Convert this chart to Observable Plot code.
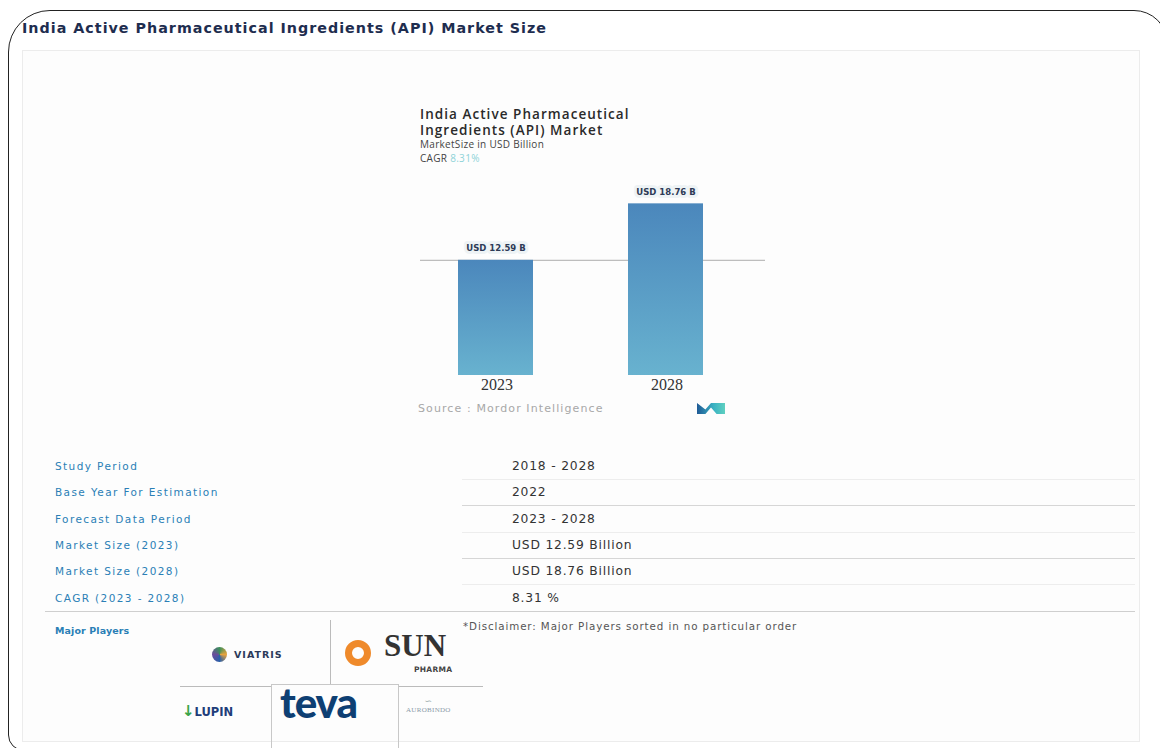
<!DOCTYPE html>
<html>
<head>
<meta charset="utf-8">
<script src="https://cdn.jsdelivr.net/npm/d3@7"></script>
<script src="https://cdn.jsdelivr.net/npm/@observablehq/plot@0.6"></script>
<style>
  html, body { margin: 0; padding: 0; width: 1160px; height: 748px; overflow: hidden; background: #fff; font-family: "DejaVu Sans", "Noto Sans", sans-serif; }
  #frame { position: absolute; left: 8px; top: 10px; width: 1160px; height: 741px; border: 1.5px solid #222; border-radius: 42px 34px 0 16px; box-sizing: border-box; }
  #panel { position: absolute; left: 22px; top: 50px; width: 1118px; height: 692px; border: 1px solid #ececec; background: #fdfdfd; box-sizing: border-box; }
  #title { position: absolute; left: 22px; top: 20px; font-family: "DejaVu Sans", sans-serif; font-weight: 700; font-size: 14.3px; color: #1e2d4f; letter-spacing: 1px; }
  #chartHead { position: absolute; left: 420px; top: 106px; color: #2a2a2a; font-family: "Open Sans", sans-serif; }
  #chartHead .t { font-weight: 600; font-size: 13.5px; line-height: 16px; letter-spacing: 1.05px; }
  #chartHead .s { font-size: 10px; line-height: 13.5px; color: #444; letter-spacing: 0.3px; }
  #chartHead .c span { color: #8fd3d8; }
  #chart { position: absolute; left: 410px; top: 170px; }
  #source { position: absolute; left: 418px; top: 402px; font-size: 11px; color: #a8a8a8; letter-spacing: 1.1px; }
  #mlogo { position: absolute; left: 697px; top: 403px; width: 28px; height: 11px; background: linear-gradient(90deg, #1f5a96, #3bb3c3 60%, #5fd0c0); clip-path: polygon(0 100%, 0 0, 30% 60%, 50% 0, 100% 0, 100% 100%, 70% 100%, 50% 40%, 30% 100%); }
  .lab { position: absolute; left: 55px; font-size: 10.5px; color: #2a7fb6; transform: translateY(-50%); letter-spacing: 1.4px; }
  .val { position: absolute; left: 512px; font-size: 12.3px; color: #333; transform: translateY(-50%); letter-spacing: 0.8px; }
  .sep { position: absolute; height: 1px; background: #dcdcdc; }
  #players { position: absolute; left: 55px; top: 625px; font-size: 9.5px; color: #2a7fb6; font-weight: 700; letter-spacing: 0.1px; }
  #disc { position: absolute; left: 463px; top: 620px; font-size: 10.3px; color: #555; letter-spacing: 0.9px; }
  .logo { position: absolute; }
</style>
</head>
<body>
<div id="frame"></div>
<div id="panel"></div>
<div id="title"></div>
<div id="chartHead"></div>
<div id="chart"></div>
<div id="source"></div>
<div id="mlogo"></div>
<div id="table"></div>
<div id="players"></div>
<div id="disc"></div>
<div id="logos"></div>
<script>
// ---- data ----
const pageTitle = "India Active Pharmaceutical Ingredients (API) Market Size";
const chartTitleLines = ["India Active Pharmaceutical", "Ingredients (API) Market"];
const chartSubtitle = "MarketSize in USD Billion";
const cagrLabel = "CAGR";
const cagrValue = "8.31%";
const years = ["2023", "2028"];
const marketSize = [12.59, 18.76];
const valueLabels = ["USD 12.59 B", "USD 18.76 B"];
const sourceText = "Source : Mordor Intelligence";
const tableLabels = ["Study Period", "Base Year For Estimation", "Forecast Data Period", "Market Size (2023)", "Market Size (2028)", "CAGR (2023 - 2028)"];
const tableValues = ["2018 - 2028", "2022", "2023 - 2028", "USD 12.59 Billion", "USD 18.76 Billion", "8.31 %"];
const playersLabel = "Major Players";
const disclaimer = "*Disclaimer: Major Players sorted in no particular order";

// ---- text blocks ----
document.getElementById("title").textContent = pageTitle;
const head = document.getElementById("chartHead");
chartTitleLines.forEach(t => { const d = document.createElement("div"); d.className = "t"; d.textContent = t; head.appendChild(d); });
const sub = document.createElement("div"); sub.className = "s"; sub.textContent = chartSubtitle; head.appendChild(sub);
const cg = document.createElement("div"); cg.className = "s c"; cg.innerHTML = cagrLabel + " <span>" + cagrValue + "</span>"; head.appendChild(cg);
document.getElementById("source").textContent = sourceText;
document.getElementById("players").textContent = playersLabel;
document.getElementById("disc").textContent = disclaimer;

// ---- table ----
const table = document.getElementById("table");
const rowTop = 466, rowStep = 26.3;
tableLabels.forEach((l, i) => {
  const y = rowTop + i * rowStep;
  const a = document.createElement("div"); a.className = "lab"; a.style.top = y + "px"; a.textContent = l; table.appendChild(a);
  const b = document.createElement("div"); b.className = "val"; b.style.top = y + "px"; b.textContent = tableValues[i]; table.appendChild(b);
  const s = document.createElement("div"); s.className = "sep";
  s.style.top = (y + 13) + "px";
  if (i === tableLabels.length - 1) { s.style.left = "45px"; s.style.width = "1090px"; s.style.background = "#cfcfcf"; }
  else { s.style.left = "462px"; s.style.width = "673px"; s.style.background = i % 2 ? "#d6d6d6" : "#ededed"; }
  table.appendChild(s);
});

// ---- logos ----
const logos = document.getElementById("logos");
function add(html, css) { const d = document.createElement("div"); d.className = "logo"; d.innerHTML = html; Object.assign(d.style, css); logos.appendChild(d); }
add("", {left: "330px", top: "620px", width: "1px", height: "65px", background: "#bbb"});
add("", {left: "180px", top: "686px", width: "92px", height: "1px", background: "#bbb"});
add("", {left: "398px", top: "686px", width: "85px", height: "1px", background: "#bbb"});
add("", {left: "271px", top: "684px", width: "128px", height: "66px", border: "1px solid #c8c8c8", boxSizing: "border-box"});
add('<span style="display:inline-block;width:15px;height:15px;border-radius:50%;background:conic-gradient(#3b8f5a,#e8a33d,#2a5fa8,#6a4c9c,#3b8f5a);vertical-align:middle;margin-right:7px"></span><span style="font-weight:700;font-size:9.5px;letter-spacing:1px;color:#2b3a5a;vertical-align:middle">VIATRIS</span>', {left: "212px", top: "644px"});
add('<span style="display:inline-block;width:26px;height:26px;border-radius:50%;border:7px solid #ef8a2b;box-sizing:border-box;vertical-align:middle"></span>', {left: "345px", top: "640px"});
add('<span style="font-family:\'Liberation Serif\',serif;font-weight:700;font-size:31px;line-height:28px;color:#333">SUN</span>', {left: "384px", top: "632px"});
add('<span style="font-size:7.5px;font-weight:600;color:#444;letter-spacing:0.3px">PHARMA</span>', {left: "414px", top: "657px"});
add('<span style="color:#3aa54a;font-weight:900;font-size:15px">&#8595;</span><span style="font-weight:800;font-size:11.5px;color:#1f3d7a">LUPIN</span>', {left: "182px", top: "701px"});
add('<span style="font-family:Lato,sans-serif;font-weight:900;font-size:42px;color:#0e3f73;letter-spacing:-1px">teva</span>', {left: "280px", top: "677px"});
add('<div style="text-align:center;font-size:9px;color:#9aa">&#8765;</div><div style="font-family:\'Liberation Serif\',serif;font-size:7px;color:#8a9aa8;letter-spacing:0.3px">AUROBINDO</div>', {left: "406px", top: "696px"});

// ---- chart ----
const data = years.map((y, i) => ({year: y, value: marketSize[i], label: valueLabels[i]}));
const defs = () => {
  const g = d3.create("svg:defs");
  const lg = g.append("linearGradient").attr("id", "barGrad").attr("x1", 0).attr("y1", 0).attr("x2", 0).attr("y2", 1);
  lg.append("stop").attr("offset", "0%").attr("stop-color", "#4b87bc");
  lg.append("stop").attr("offset", "100%").attr("stop-color", "#68b2cf");
  return g.node();
};
const chart = Plot.plot({
  width: 360,
  height: 225,
  marginLeft: 48,
  marginRight: 67,
  marginTop: 22,
  marginBottom: 20,
  style: {background: "transparent", overflow: "visible"},
  x: {domain: years, paddingInner: 0.56, paddingOuter: 0, label: null},
  y: {domain: [0, 20], axis: null},
  marks: [
    defs,
    Plot.ruleY([marketSize[0]], {stroke: "#bdbdbd", strokeWidth: 1.2, insetLeft: -38, insetRight: -62}),
    Plot.barY(data, {x: "year", y: "value", fill: "url(#barGrad)"}),
    Plot.text(data, {x: "year", y: "value", text: "label", dy: -12, fontSize: 8.5, fontWeight: 700, fontFamily: "DejaVu Sans, sans-serif", fill: "#2d3a55", stroke: "#eef3f5", strokeWidth: 6, paintOrder: "stroke"}),
    Plot.axisX({tickSize: 0, tickPadding: 3, fontSize: 16, fontFamily: "Liberation Serif, serif", fill: "#333", label: null, dx: 1, style: {letterSpacing: "2.3px"}})
  ]
});
document.getElementById("chart").appendChild(chart);
</script>
</body>
</html>
